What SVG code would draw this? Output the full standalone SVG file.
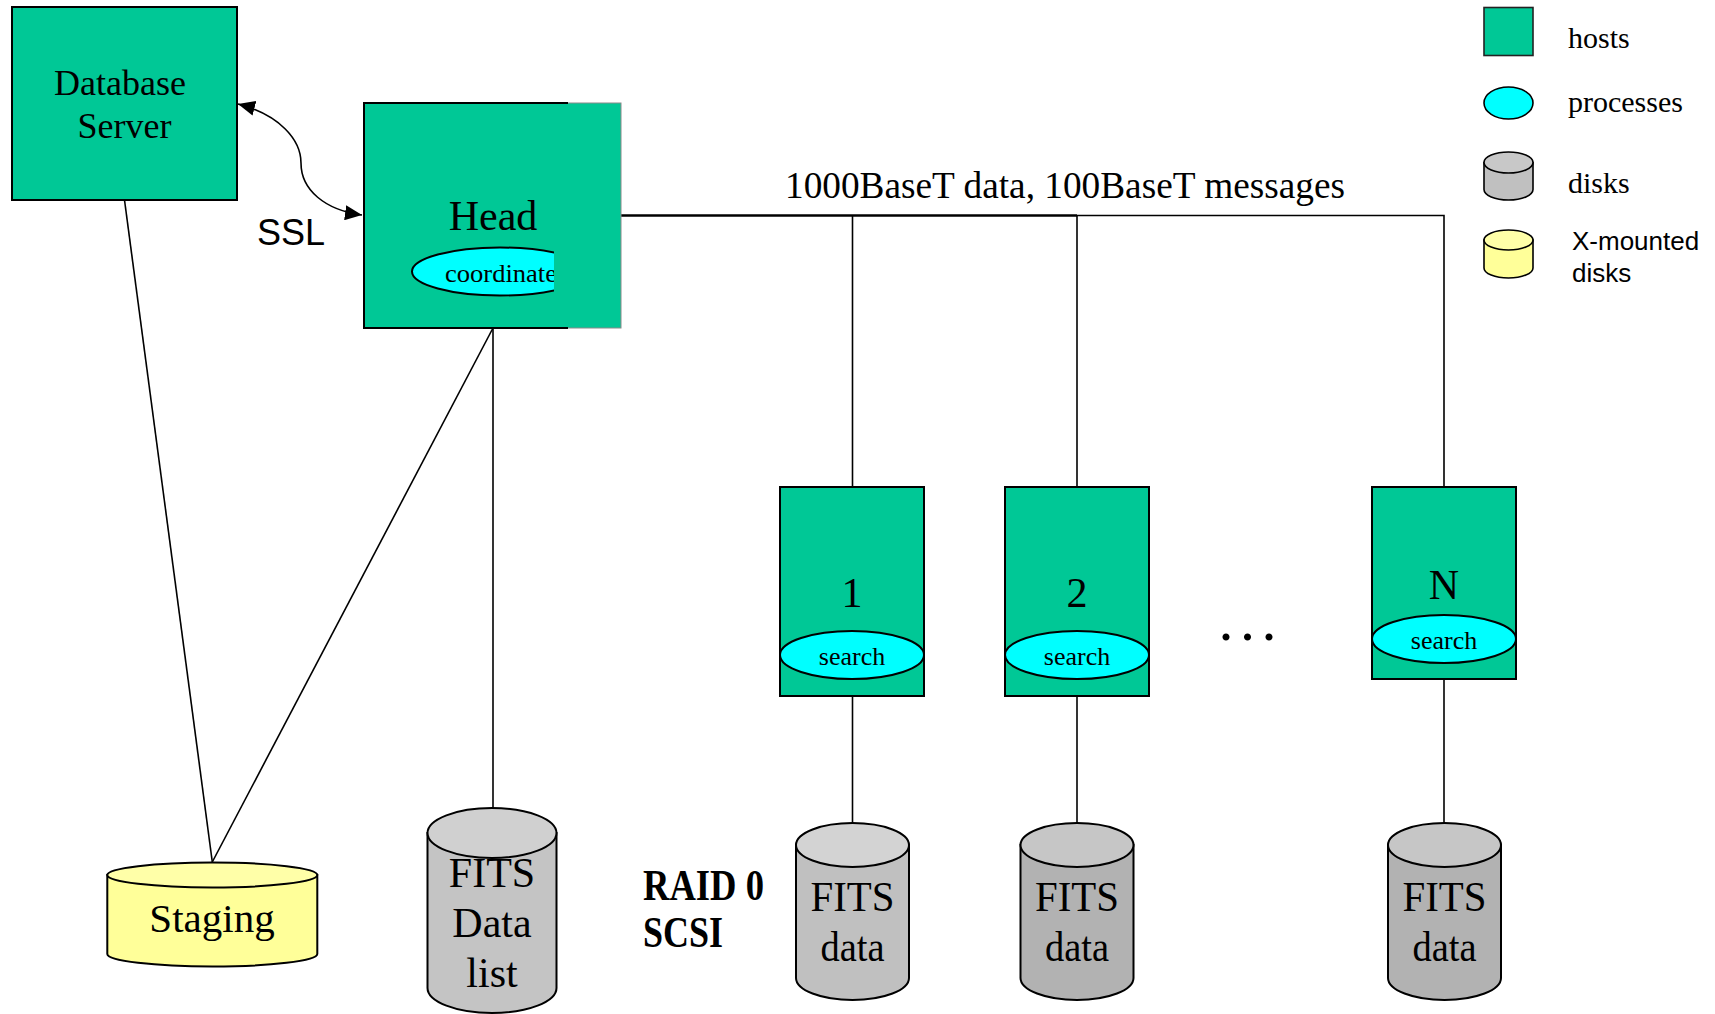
<svg xmlns="http://www.w3.org/2000/svg" width="1715" height="1014" viewBox="0 0 1715 1014">
<style>
.host{fill:#00C896;stroke:#000;stroke-width:2}
.proc{fill:#00FFFF;stroke:#000;stroke-width:2}
.ln{fill:none;stroke:#000;stroke-width:1.6}
.serif{font-family:"Liberation Serif","Times New Roman",serif;fill:#000}
.sans{font-family:"Liberation Sans",Arial,sans-serif;fill:#000}
.cyl{stroke:#000;stroke-width:2}
</style>
<defs>
<marker id="ah" viewBox="0 0 10 10" refX="10" refY="5" markerWidth="17" markerHeight="15" markerUnits="userSpaceOnUse" orient="auto-start-reverse" preserveAspectRatio="none">
<path d="M0,0 L10,5 L0,10 Z" fill="#000"/>
</marker>
<clipPath id="headclip"><rect x="364" y="100" width="190" height="230"/></clipPath>
</defs>

<g id="connectors">
<path class="ln" d="M238,104 C280,115 301,140 301,163 C301,190 325,210 362,215" marker-start="url(#ah)" marker-end="url(#ah)"/>
<line x1="621" y1="215.5" x2="1077" y2="215.5" stroke="#000" stroke-width="2.6"/>
<polyline class="ln" points="1077,215.5 1444,215.5 1444,487"/>
<line class="ln" x1="852.5" y1="215.5" x2="852.5" y2="487"/>
<line class="ln" x1="1077" y1="215.5" x2="1077" y2="487"/>
<line class="ln" x1="124.5" y1="200" x2="212.3" y2="862"/>
<line class="ln" x1="493" y1="328" x2="212.3" y2="862"/>
<line class="ln" x1="493" y1="328" x2="493" y2="808"/>
<line class="ln" x1="852.5" y1="696" x2="852.5" y2="823"/>
<line class="ln" x1="1077" y1="696" x2="1077" y2="823"/>
<line class="ln" x1="1444" y1="679" x2="1444" y2="823"/>
<text class="serif" x="785" y="197.7" font-size="37" textLength="560" lengthAdjust="spacingAndGlyphs">1000BaseT data, 100BaseT messages</text>
<text class="sans" x="257" y="245" font-size="36">SSL</text>
</g>

<g id="db-server">
<rect class="host" x="12" y="7" width="225" height="193"/>
<text class="serif" x="120" y="95" font-size="36" text-anchor="middle">Database</text>
<text class="serif" x="124.5" y="138" font-size="36" text-anchor="middle">Server</text>
</g>

<g id="head">
<rect x="364" y="103" width="257" height="225" fill="#00C896" stroke="#8a8a8a" stroke-width="1"/>
<path d="M568,103 H364 V328 H568" fill="none" stroke="#000" stroke-width="2"/>
<text class="serif" x="493" y="230" font-size="42" text-anchor="middle">Head</text>
<g clip-path="url(#headclip)">
<ellipse class="proc" cx="500" cy="271.5" rx="88" ry="24"/>
<text class="serif" x="445" y="281.7" font-size="26" textLength="112" lengthAdjust="spacingAndGlyphs">coordinate</text>
</g>
</g>

<g id="host-1">
<rect class="host" x="780" y="487" width="144" height="209"/>
<text class="serif" x="852" y="607" font-size="42" text-anchor="middle">1</text>
<ellipse class="proc" cx="852" cy="655" rx="72" ry="24"/>
<text class="serif" x="852" y="665" font-size="26" text-anchor="middle">search</text>
</g>

<g id="host-2">
<rect class="host" x="1005" y="487" width="144" height="209"/>
<text class="serif" x="1077" y="607" font-size="42" text-anchor="middle">2</text>
<ellipse class="proc" cx="1077" cy="655" rx="72" ry="24"/>
<text class="serif" x="1077" y="665" font-size="26" text-anchor="middle">search</text>
</g>

<g id="ellipsis">
<text class="serif" x="1218.5" y="639.5" font-size="60" letter-spacing="6.5">...</text>
</g>

<g id="host-n">
<rect class="host" x="1372" y="487" width="144" height="192"/>
<text class="serif" x="1444" y="599" font-size="42" text-anchor="middle">N</text>
<ellipse class="proc" cx="1444" cy="639" rx="72" ry="24"/>
<text class="serif" x="1444" y="649" font-size="26" text-anchor="middle">search</text>
</g>

<g id="staging">
<path class="cyl" fill="#FFFF99" d="M107.3,875 V954 A105,12.5 0 0 0 317.3,954 V875 Z"/>
<ellipse class="cyl" fill="#FFFFA8" cx="212.3" cy="875" rx="105" ry="12.5"/>
<text class="serif" x="212" y="931.7" font-size="41" text-anchor="middle">Staging</text>
</g>

<g id="fits-data-list">
<path class="cyl" fill="#C4C4C4" d="M427.5,833 V988 A64.5,25 0 0 0 556.5,988 V833 Z"/>
<ellipse class="cyl" fill="#D0D0D0" cx="492" cy="833" rx="64.5" ry="25"/>
<text class="serif" x="492" y="887.3" font-size="42" text-anchor="middle">FITS</text>
<text class="serif" x="492" y="936.7" font-size="42" text-anchor="middle">Data</text>
<text class="serif" x="492" y="987.3" font-size="42" text-anchor="middle">list</text>
</g>

<g id="raid-label">
<text class="serif" x="643" y="900" font-size="44" font-weight="bold" textLength="121" lengthAdjust="spacingAndGlyphs">RAID 0</text>
<text class="serif" x="643" y="946.7" font-size="44" font-weight="bold" textLength="80" lengthAdjust="spacingAndGlyphs">SCSI</text>
</g>

<g id="disk-1">
<path class="cyl" fill="#C0C0C0" d="M796,845 V978 A56.5,22 0 0 0 909,978 V845 Z"/>
<ellipse class="cyl" fill="#D3D3D3" cx="852.5" cy="845" rx="56.5" ry="22"/>
<text class="serif" x="852.5" y="911" font-size="43" text-anchor="middle" textLength="84" lengthAdjust="spacingAndGlyphs">FITS</text>
<text class="serif" x="852.5" y="961" font-size="42" text-anchor="middle" textLength="64" lengthAdjust="spacingAndGlyphs">data</text>
</g>

<g id="disk-2">
<path class="cyl" fill="#B2B2B2" d="M1020.5,845 V978 A56.5,22 0 0 0 1133.5,978 V845 Z"/>
<ellipse class="cyl" fill="#C6C6C6" cx="1077" cy="845" rx="56.5" ry="22"/>
<text class="serif" x="1077" y="911" font-size="43" text-anchor="middle" textLength="84" lengthAdjust="spacingAndGlyphs">FITS</text>
<text class="serif" x="1077" y="961" font-size="42" text-anchor="middle" textLength="64" lengthAdjust="spacingAndGlyphs">data</text>
</g>

<g id="disk-n">
<path class="cyl" fill="#B2B2B2" d="M1388,845 V978 A56.5,22 0 0 0 1501,978 V845 Z"/>
<ellipse class="cyl" fill="#C6C6C6" cx="1444.5" cy="845" rx="56.5" ry="22"/>
<text class="serif" x="1444.5" y="911" font-size="43" text-anchor="middle" textLength="84" lengthAdjust="spacingAndGlyphs">FITS</text>
<text class="serif" x="1444.5" y="961" font-size="42" text-anchor="middle" textLength="64" lengthAdjust="spacingAndGlyphs">data</text>
</g>

<g id="legend">
<rect x="1484" y="7.5" width="49" height="48" fill="#00C896" stroke="#222" stroke-width="1.6"/>
<text class="serif" x="1568" y="47.7" font-size="30">hosts</text>
<ellipse cx="1508.5" cy="103" rx="24.5" ry="16" fill="#00FFFF" stroke="#000" stroke-width="1.6"/>
<text class="serif" x="1568" y="111.7" font-size="30">processes</text>
<path d="M1484,162.5 V189.5 A24.5,10.5 0 0 0 1533,189.5 V162.5 Z" fill="#C0C0C0" stroke="#000" stroke-width="1.6"/>
<ellipse cx="1508.5" cy="162.5" rx="24.5" ry="10.5" fill="#C8C8C8" stroke="#000" stroke-width="1.6"/>
<text class="serif" x="1568" y="192.7" font-size="30">disks</text>
<path d="M1484,240 V268 A24.5,10 0 0 0 1533,268 V240 Z" fill="#FFFF99" stroke="#000" stroke-width="1.6"/>
<ellipse cx="1508.5" cy="240" rx="24.5" ry="10" fill="#FFFFA8" stroke="#000" stroke-width="1.6"/>
<text class="sans" x="1572" y="250" font-size="26">X-mounted</text>
<text class="sans" x="1572" y="281.7" font-size="26">disks</text>
</g>
</svg>
